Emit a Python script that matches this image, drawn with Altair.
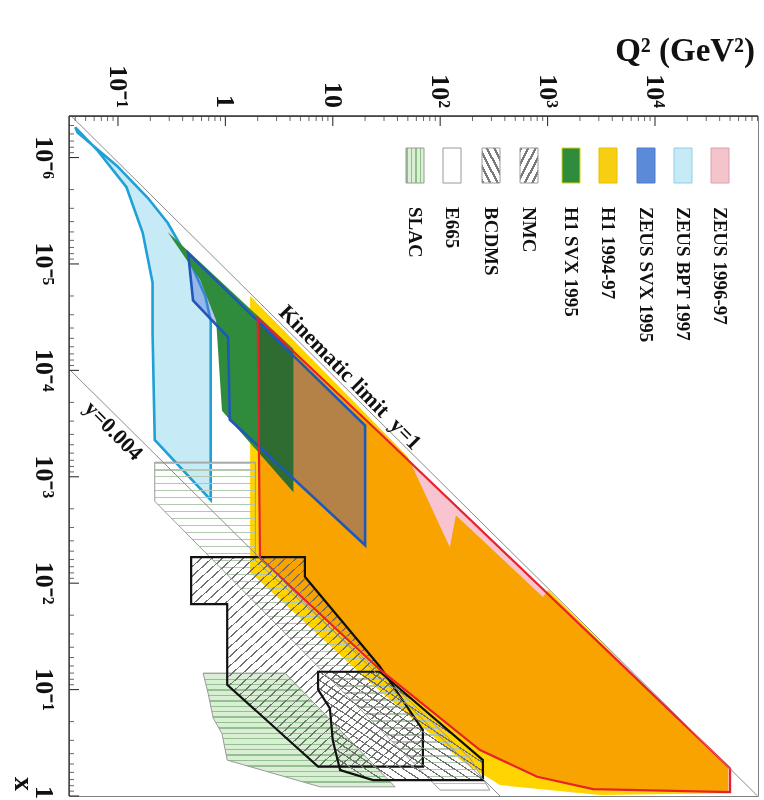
import altair as alt
import pandas as pd

# ------------------------------------------------------------------
# Kinematic (x, Q^2) plane covered by DIS experiments
# ------------------------------------------------------------------
X_RANGE = [4.07e-7, 1.0]          # Bjorken x, drawn top -> bottom
Q2_RANGE = [0.035, 91000.0]       # Q^2 in GeV^2, drawn left -> right

q2_major = [0.1, 1, 10, 100, 1000, 10000]
q2_labels = ["10⁻¹", "1", "10", "10²", "10³", "10⁴"]
x_major = [1e-6, 1e-5, 1e-4, 1e-3, 1e-2, 1e-1, 1.0]
x_labels = ["10⁻⁶", "10⁻⁵", "10⁻⁴", "10⁻³", "10⁻²", "10⁻¹", "1"]

# region boundaries (vertices in drawing order)
bpt_x = [5.2e-7, 8.5e-7, 1.9e-6, 5.1e-6, 1.5e-5, 4.5e-5, 4.5e-4, 1.65e-3,
         3.4e-5, 2.0e-5, 9.6e-6, 4.1e-6, 2.4e-6, 1.2e-6, 5.8e-7]
bpt_q2 = [0.040, 0.064, 0.12, 0.17, 0.21, 0.21, 0.22, 0.73,
          0.73, 0.65, 0.47, 0.29, 0.19, 0.098, 0.042]

h1svx_x = [5.0e-6, 1.4e-5, 3.4e-5, 2.4e-4, 1.4e-3, 6.3e-5]
h1svx_q2 = [0.29, 0.58, 0.82, 0.93, 4.3, 4.3]

zsvx_x = [7.9e-6, 2.2e-5, 4.9e-5, 2.9e-4, 4.4e-3, 3.3e-4]
zsvx_q2 = [0.45, 0.50, 1.06, 1.10, 20.0, 20.0]

z97_x = [3.2e-5, 3.9e-4, 0.55, 0.92, 0.86, 0.66, 0.37, 0.065, 5.8e-3]
z97_q2 = [2.0, 27.5, 5.0e4, 5.0e4, 2650, 800, 235, 27.5, 2.1]

h1_x = [2.0e-5, 6.5e-4, 4.6e-3, 2.3e-3, 1.35e-2, 1.15e-2, 0.54, 0.94,
        0.98, 0.79, 0.48, 0.085, 7.9e-3]
h1_q2 = [1.7, 50, 123, 140, 906, 1010, 4.8e4, 4.8e4,
         3080, 360, 163, 22, 1.7]

nmc_x = [5.7e-3, 5.7e-3, 8.7e-3, 0.061, 0.24, 0.53, 0.53, 0.090, 0.0157, 0.0157]
nmc_q2 = [0.48, 5.5, 5.5, 27.5, 69, 69, 7.3, 1.04, 1.04, 0.48]

bcdms_x = [0.068, 0.068, 0.46, 0.71, 0.71, 0.57, 0.30, 0.15, 0.10]
bcdms_q2 = [7.3, 27.5, 250, 250, 23.7, 11.7, 10.0, 9.4, 7.3]

slac_x = [0.070, 0.070, 0.82, 0.82, 0.46, 0.26, 0.185, 0.108]
slac_q2 = [0.62, 3.6, 38, 7.6, 1.04, 0.93, 0.77, 0.69]

e665_x = [7.3e-4, 7.3e-4, 6.1e-3, 0.063, 0.44, 0.88, 0.88, 1.7e-3]
e665_q2 = [0.22, 1.9, 1.9, 24.7, 189, 290, 100, 0.22]

# kinematic limit (y = 1) and the y = 0.004 line
kin_x = [4.07e-7, 1.0]
kin_q2 = [0.0367, 90200.0]
y004_x = [9.7e-5, 1.0]
y004_q2 = [0.035, 361.0]

# annotation anchors on those lines
kin_text_x, kin_text_q2 = 3.15e-5, 2.84
y004_text_x, y004_text_q2 = 1.75e-4, 0.0631

legend_names = ["SLAC", "E665", "BCDMS", "NMC", "H1 SVX 1995", "H1 1994-97",
                "ZEUS SVX 1995", "ZEUS BPT 1997", "ZEUS 1996-97"]

# ------------------------------------------------------------------
SERIF = "Liberation Serif"
W, H = 689, 680

q_scale = alt.Scale(type="log", domain=Q2_RANGE, nice=False)
x_scale = alt.Scale(type="log", domain=X_RANGE, nice=False, reverse=True)


def stripes(n, line, gap, width, x1=0, y1=0, x2=0, y2=1):
    stops = []
    for k in range(n):
        a = k / n
        b = min(a + width, 1.0)
        c = (k + 1) / n
        stops += [
            {"offset": round(a, 5), "color": line},
            {"offset": round(b, 5), "color": line},
            {"offset": round(b, 5), "color": gap},
            {"offset": round(c, 5), "color": gap},
        ]
    return {"gradient": "linear", "x1": x1, "y1": y1, "x2": x2, "y2": y2,
            "stops": stops}


CLEAR = "rgba(255,255,255,0)"


def frame(xs, qs):
    return pd.DataFrame({"x": xs, "q2": qs, "i": list(range(len(xs)))})


def region(xs, qs, closed=True, **style):
    interp = "linear-closed" if closed else "linear"
    return alt.Chart(frame(xs, qs)).mark_line(
        interpolate=interp, **style
    ).encode(
        x=alt.X("q2:Q", scale=q_scale, axis=None),
        y=alt.Y("x:Q", scale=x_scale, axis=None),
        order=alt.Order("i:Q"),
    )


layers = []

# filled areas, back to front
layers.append(region(h1_x, h1_q2, fill="#ffd400", strokeOpacity=0))
layers.append(region(bpt_x, bpt_q2, fill="#c6eaf6", stroke="#1fa0d6",
                     strokeWidth=2.6))
layers.append(region(zsvx_x, zsvx_q2, fill="#5068d8", fillOpacity=0.4,
                     strokeOpacity=0))
layers.append(region(h1svx_x, h1svx_q2, fill="#2f8c3d", strokeOpacity=0))
layers.append(region(z97_x, z97_q2, fill="#f8c4cf", blend="multiply",
                     strokeOpacity=0))

# hatched fixed-target regions
layers.append(region(slac_x, slac_q2,
                     fill=stripes(21, "#94bf90", "#d9efd4", 0.012),
                     stroke="#9a9a9a", strokeWidth=1))
layers.append(region(e665_x, e665_q2,
                     fill=stripes(47, "#b3c9af", CLEAR, 0.004),
                     stroke="#9a9a9a", strokeWidth=1))
layers.append(region(nmc_x, nmc_q2,
                     fill=stripes(44, "#707070", CLEAR, 0.0038, 0, 0, 1, 1),
                     stroke="#111111", strokeWidth=2.2))
layers.append(region(bcdms_x, bcdms_q2,
                     fill=stripes(26, "#707070", CLEAR, 0.0065, 0, 1, 1, 0),
                     stroke="#111111", strokeWidth=2.2))

# outlines drawn on top
layers.append(region(zsvx_x, zsvx_q2, stroke="#1f58b8", strokeWidth=2.6))
layers.append(region(z97_x, z97_q2, stroke="#e8222c", strokeWidth=2.2))

# kinematic lines
layers.append(region(kin_x, kin_q2, closed=False, stroke="#8c8c8c",
                     strokeWidth=1))
layers.append(region(y004_x, y004_q2, closed=False, stroke="#8c8c8c",
                     strokeWidth=1))

# line annotations
layers.append(
    alt.Chart(pd.DataFrame({"x": [kin_text_x], "q2": [kin_text_q2],
                            "t": ["Kinematic limit\u00a0 y=1"]}))
    .mark_text(angle=45.5, align="left", baseline="alphabetic", dy=-5,
               font=SERIF, fontSize=22, fontWeight="bold", color="#111")
    .encode(x=alt.X("q2:Q", scale=q_scale, axis=None),
            y=alt.Y("x:Q", scale=x_scale, axis=None), text="t:N")
)
layers.append(
    alt.Chart(pd.DataFrame({"x": [y004_text_x], "q2": [y004_text_q2],
                            "t": ["y=0.004"]}))
    .mark_text(angle=45.5, align="left", baseline="top", dy=2,
               font=SERIF, fontSize=22, fontWeight="bold", color="#111")
    .encode(x=alt.X("q2:Q", scale=q_scale, axis=None),
            y=alt.Y("x:Q", scale=x_scale, axis=None), text="t:N")
)

# inward ticks on the top (Q^2) and left (x) edges
q2_minor = [m * 10.0 ** e for e in range(-2, 5) for m in range(2, 10)
            if Q2_RANGE[0] <= m * 10.0 ** e <= Q2_RANGE[1]]
x_minor = [m * 10.0 ** e for e in range(-7, 0) for m in range(2, 10)
           if X_RANGE[0] <= m * 10.0 ** e <= X_RANGE[1]]

layers.append(
    alt.Chart(pd.DataFrame({"q2": q2_minor})).mark_rule(color="#555", strokeWidth=0.9)
    .encode(x=alt.X("q2:Q", scale=q_scale, axis=None), y=alt.value(0), y2=alt.value(5))
)
layers.append(
    alt.Chart(pd.DataFrame({"q2": q2_major})).mark_rule(color="#333", strokeWidth=1.1)
    .encode(x=alt.X("q2:Q", scale=q_scale, axis=None), y=alt.value(0), y2=alt.value(10))
)
layers.append(
    alt.Chart(pd.DataFrame({"x": x_minor})).mark_rule(color="#555", strokeWidth=0.9)
    .encode(y=alt.Y("x:Q", scale=x_scale, axis=None), x=alt.value(0), x2=alt.value(5))
)
layers.append(
    alt.Chart(pd.DataFrame({"x": x_major})).mark_rule(color="#333", strokeWidth=1.1)
    .encode(y=alt.Y("x:Q", scale=x_scale, axis=None), x=alt.value(0), x2=alt.value(10))
)

# edge lines of the top and left axes
layers.append(
    alt.Chart(alt.Data(values=[{}])).mark_rule(color="#333", strokeWidth=1.3)
    .encode(x=alt.value(0), x2=alt.value(W), y=alt.value(0))
)
layers.append(
    alt.Chart(alt.Data(values=[{}])).mark_rule(color="#333", strokeWidth=1.3)
    .encode(y=alt.value(0), y2=alt.value(H), x=alt.value(0))
)

# tick labels (rotated, as on the original page)
layers.append(
    alt.Chart(pd.DataFrame({"q2": q2_major, "t": q2_labels}))
    .mark_text(angle=90, align="right", baseline="middle", font=SERIF,
               fontSize=26, fontWeight="bold", color="#111")
    .encode(x=alt.X("q2:Q", scale=q_scale, axis=None), y=alt.value(-8),
            text="t:N")
)
layers.append(
    alt.Chart(pd.DataFrame({"x": x_major[:-1], "t": x_labels[:-1]}))
    .mark_text(angle=90, align="center", baseline="top", font=SERIF,
               fontSize=26, fontWeight="bold", color="#111")
    .encode(y=alt.Y("x:Q", scale=x_scale, axis=None), x=alt.value(-12),
            text="t:N")
)
# the label at x = 1 sits on the lower edge; pull it up so it stays whole
layers.append(
    alt.Chart(pd.DataFrame({"x": x_major[-1:], "t": x_labels[-1:]}))
    .mark_text(angle=90, align="right", baseline="top", font=SERIF,
               fontSize=26, fontWeight="bold", color="#111", dx=3)
    .encode(y=alt.Y("x:Q", scale=x_scale, axis=None), x=alt.value(-12),
            text="t:N")
)

# axis titles
layers.append(
    alt.Chart(alt.Data(values=[{}]))
    .mark_text(align="right", baseline="alphabetic", font=SERIF, fontSize=33,
               fontWeight="bold", color="#111")
    .encode(x=alt.value(686), y=alt.value(-55), text=alt.value("Q² (GeV²)"))
)
layers.append(
    alt.Chart(alt.Data(values=[{}]))
    .mark_text(angle=90, align="center", baseline="middle", font=SERIF,
               fontSize=28, fontWeight="bold", color="#111")
    .encode(x=alt.value(-46), y=alt.value(668), text=alt.value("x"))
)

# legend: swatches with rotated names
legend_cx = [346, 383, 422, 460, 502, 539, 577, 614, 651]
legend_fill = [
    stripes(4, "#8fbf8b", "#daf0d5", 0.09, 0, 0, 1, 0),
    "#ffffff",
    stripes(5, "#7a7a7a", "#ffffff", 0.07, 0, 1, 1, 0),
    stripes(5, "#7a7a7a", "#ffffff", 0.07, 0, 0, 1, 1),
    "#2f8c3d",
    "#f7cf12",
    "#5a8ad8",
    "#c6eaf6",
    "#f4c4cc",
]
legend_stroke = ["#9a9a9a", "#9a9a9a", "#9a9a9a", "#9a9a9a", "#e0d000",
                 "#e8c000", "#4a7ad0", "#8fcfe8", "#d9a0aa"]
dummy = alt.Data(values=[{}])
for cx, name, fill, stroke in zip(legend_cx, legend_names, legend_fill, legend_stroke):
    layers.append(
        alt.Chart(dummy).mark_rect(fill=fill, stroke=stroke, strokeWidth=1)
        .encode(x=alt.value(cx - 9), x2=alt.value(cx + 9),
                y=alt.value(32), y2=alt.value(67))
    )
    layers.append(
        alt.Chart(dummy).mark_text(angle=90, align="left", baseline="middle",
                                   font=SERIF, fontSize=19, fontWeight="bold",
                                   color="#111")
        .encode(x=alt.value(cx), y=alt.value(91), text=alt.value(name))
    )

chart = (
    alt.layer(*layers)
    .properties(width=W, height=H, autosize=alt.AutoSizeParams(type="none"),
                padding={"left": 69, "top": 116, "right": 6, "bottom": 4},
                background="white")
    .configure_view(stroke="#808080", strokeWidth=1)
)

chart.save("out.html", embed_options={"renderer": "svg", "actions": False})
